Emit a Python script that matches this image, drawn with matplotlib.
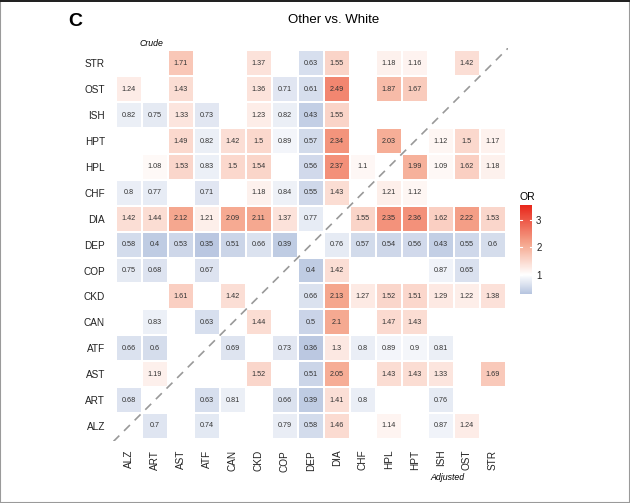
import numpy as np
import matplotlib
matplotlib.use("Agg")
import matplotlib.pyplot as plt
from matplotlib.colors import LinearSegmentedColormap, Normalize
from matplotlib.patches import Rectangle

plt.rcParams['font.family'] = ['Liberation Sans', 'DejaVu Sans']

categories = ["ALZ", "ART", "AST", "ATF", "CAN", "CKD", "COP", "DEP",
              "DIA", "CHF", "HPL", "HPT", "ISH", "OST", "STR"]
N = None
# one list per row (row label -> values across columns in `categories` order)
row_ALZ = [N, 0.7, N, 0.74, N, N, 0.79, 0.58, 1.46, N, 1.14, N, 0.87, 1.24, N]
row_ART = [0.68, N, N, 0.63, 0.81, N, 0.66, 0.39, 1.41, 0.8, N, N, 0.76, N, N]
row_AST = [N, 1.19, N, N, N, 1.52, N, 0.51, 2.05, N, 1.43, 1.43, 1.33, N, 1.69]
row_ATF = [0.66, 0.6, N, N, 0.69, N, 0.73, 0.36, 1.3, 0.8, 0.89, 0.9, 0.81, N, N]
row_CAN = [N, 0.83, N, 0.63, N, 1.44, N, 0.5, 2.1, N, 1.47, 1.43, N, N, N]
row_CKD = [N, N, 1.61, N, 1.42, N, N, 0.66, 2.13, 1.27, 1.52, 1.51, 1.29, 1.22, 1.38]
row_COP = [0.75, 0.68, N, 0.67, N, N, N, 0.4, 1.42, N, N, N, 0.87, 0.65, N]
row_DEP = [0.58, 0.4, 0.53, 0.35, 0.51, 0.66, 0.39, N, 0.76, 0.57, 0.54, 0.56, 0.43, 0.55, 0.6]
row_DIA = [1.42, 1.44, 2.12, 1.21, 2.09, 2.11, 1.37, 0.77, N, 1.55, 2.35, 2.36, 1.62, 2.22, 1.53]
row_CHF = [0.8, 0.77, N, 0.71, N, 1.18, 0.84, 0.55, 1.43, N, 1.21, 1.12, N, N, N]
row_HPL = [N, 1.08, 1.53, 0.83, 1.5, 1.54, N, 0.56, 2.37, 1.1, N, 1.99, 1.09, 1.62, 1.18]
row_HPT = [N, N, 1.49, 0.82, 1.42, 1.5, 0.89, 0.57, 2.34, N, 2.03, N, 1.12, 1.5, 1.17]
row_ISH = [0.82, 0.75, 1.33, 0.73, N, 1.23, 0.82, 0.43, 1.55, N, N, N, N, N, N]
row_OST = [1.24, N, 1.43, N, N, 1.36, 0.71, 0.61, 2.49, N, 1.87, 1.67, N, N, N]
row_STR = [N, N, 1.71, N, N, 1.37, N, 0.63, 1.55, N, 1.18, 1.16, N, 1.42, N]

rows = [row_ALZ, row_ART, row_AST, row_ATF, row_CAN, row_CKD, row_COP, row_DEP,
        row_DIA, row_CHF, row_HPL, row_HPT, row_ISH, row_OST, row_STR]
cbar_ticks = [1, 2, 3]

Z = np.array([[np.nan if v is None else v for v in r] for r in rows], dtype=float)
n = len(categories)

fig = plt.figure(figsize=(6.30, 5.03), dpi=100)
ax = fig.add_axes([0.180, 0.1223, 0.627, 0.7827])

vmin, vmid, vmax = 0.3, 1.0, 3.55
pm = (vmid - vmin) / (vmax - vmin)
cmap = LinearSegmentedColormap.from_list(
    "or", [(0.0, "#b6c4df"), (pm, "#ffffff"),
           (pm + 0.45 * (1 - pm), "#f5a58c"), (1.0, "#e8261a")])
norm = Normalize(vmin=vmin, vmax=vmax)

xs = np.arange(n + 1) - 0.5
mesh = ax.pcolormesh(xs, xs, np.ma.masked_invalid(Z), cmap=cmap, norm=norm,
                     edgecolors="white", linewidth=1.2)

for i in range(n):
    for j in range(n):
        v = Z[i, j]
        if not np.isnan(v):
            ax.text(j, i, f"{v:g}", ha="center", va="center", fontsize=5.2, color="#333333")

ax.plot([-0.6, 14.6], [-0.6, 14.6], ls=(0, (5, 4)), color="#999999", lw=1.2)

ax.set_xlim(-0.6, 14.6)
ax.set_ylim(-0.6, 14.6)
ax.set_xticks(range(n))
ax.set_yticks(range(n))
ax.set_xticklabels(categories, rotation=90, fontsize=7.2, color="#222222")
ax.set_yticklabels(categories, fontsize=7.2, color="#222222")
ax.tick_params(length=0, pad=6)
for s in ax.spines.values():
    s.set_visible(False)

fig.text(334 / 630, 1 - 20 / 503, "Other vs. White", ha="center", va="center", fontsize=9.5)
fig.text(75 / 630, 1 - 22 / 503, "C", ha="center", va="center", fontsize=14, fontweight="bold")
fig.text(151 / 630, 1 - 43 / 503, "Crude", ha="center", va="center", fontsize=6.3, style="italic")
fig.text(447 / 630, 1 - 478 / 503, "Adjusted", ha="center", va="center", fontsize=6.3, style="italic")

cax = fig.add_axes([520 / 630, 1 - 294 / 503, 12 / 630, 89 / 503])
cb = fig.colorbar(mesh, cax=cax, ticks=cbar_ticks)
cb.outline.set_visible(False)
cb.ax.tick_params(length=0, labelsize=7, pad=3, colors="#222222")
for t in cbar_ticks:
    cax.axhline(t, color="white", lw=0.8, xmin=0, xmax=0.2)
    cax.axhline(t, color="white", lw=0.8, xmin=0.8, xmax=1)
fig.text(527 / 630, 1 - 197 / 503, "OR", ha="center", va="center", fontsize=7.5)

fig.patches.append(Rectangle((0, 0), 1, 1, transform=fig.transFigure, fill=False,
                             edgecolor="#9a9a9a", lw=1.5))
fig.patches.append(Rectangle((0, 0.996), 1, 0.004, transform=fig.transFigure,
                             facecolor="#222222", edgecolor="none"))

fig.savefig("out.png", dpi=100)
